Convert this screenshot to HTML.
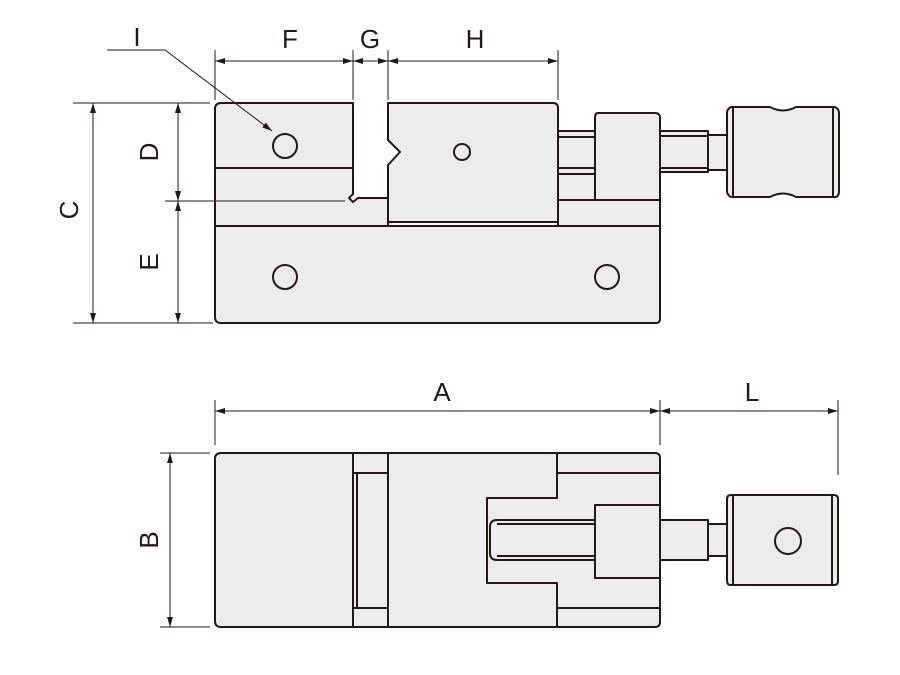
<!DOCTYPE html>
<html><head><meta charset="utf-8"><style>html,body{margin:0;padding:0;background:#fff}svg{display:block}</style></head><body>
<svg width="900" height="675" viewBox="0 0 900 675" xmlns="http://www.w3.org/2000/svg">
<defs>
<marker id="a" viewBox="0 0 10 6" refX="10" refY="3" markerWidth="10" markerHeight="6" orient="auto-start-reverse" markerUnits="userSpaceOnUse"><path d="M0,0 L10,3 L0,6z" fill="#231815"/></marker>
</defs>
<g font-family="Liberation Sans, sans-serif" font-size="26" fill="#231815" text-anchor="middle">
<text x="290" y="48">F</text><text x="370" y="48">G</text><text x="475" y="48">H</text>
<text x="137" y="46">I</text>
<text x="442" y="401">A</text><text x="752" y="401">L</text>
<text transform="translate(78,210) rotate(-90)">C</text>
<text transform="translate(158,152) rotate(-90)">D</text>
<text transform="translate(158,262) rotate(-90)">E</text>
<text transform="translate(158,540) rotate(-90)">B</text>
</g>
<g stroke="#231815" stroke-width="2" fill="#ececec" stroke-linejoin="round">
<!-- top view -->
<rect x="558" y="131" width="40" height="69"/>
<line x1="558" y1="137" x2="595" y2="137"/><line x1="558" y1="168" x2="595" y2="168"/><line x1="558" y1="174" x2="595" y2="174"/>
<rect x="660" y="131" width="48" height="41"/><rect x="708" y="135" width="19" height="35"/>
<line x1="660" y1="136" x2="708" y2="136"/><line x1="660" y1="168" x2="708" y2="168"/>
<path d="M731,107 L770,107 Q783,114 796,107 L835,107 Q839,109 839,113 L839,191 Q839,197 835,197 L796,197 Q783,190 770,197 L731,197 Q727,195 727,191 L727,113 Q727,109 731,107Z"/>
<line x1="733" y1="108" x2="733" y2="196"/><line x1="833" y1="108" x2="833" y2="196"/>
<path d="M219,226 L660,226 L660,319 Q660,323 656,323 L221,323 Q215,323 215,317 L215,226Z"/>
<path d="M215,226 L215,109 Q215,103 221,103 L353,103 L353,194 L349,198 L353,202 L358,198 L388,198 L388,226 Z"/>
<line x1="215" y1="168" x2="353" y2="168"/>
<path d="M558,200 L660,200 L660,226 L558,226Z"/>
<path d="M388,103 L553,103 Q558,103 558,108 L558,222 L388,222 L388,165 L400,152 L388,140Z"/>
<path d="M598,113 L655,113 Q660,113 660,118 L660,200 L595,200 L595,118 Q595,113 598,113Z"/>
<circle cx="285" cy="146" r="12"/><circle cx="462" cy="152" r="8"/>
<circle cx="285" cy="277" r="12"/><circle cx="607" cy="277" r="12"/>
<!-- bottom view -->
<path d="M221,453 L655,453 Q660,453 660,458 L660,622 Q660,627 655,627 L221,627 Q215,627 215,621 L215,459 Q215,453 221,453Z"/>
<line x1="353" y1="453" x2="353" y2="627"/><line x1="388" y1="453" x2="388" y2="627"/>
<line x1="353" y1="473" x2="388" y2="473"/><line x1="353" y1="608" x2="388" y2="608"/>
<rect x="357" y="473" width="31" height="135"/>
<polyline points="557,453 557,498 487,498 487,583 557,583 557,627" fill="none"/>
<line x1="557" y1="473" x2="660" y2="473"/><line x1="557" y1="608" x2="660" y2="608"/>
<path d="M497,520 L595,520 L595,560 L497,560 Q490,560 490,553 L490,527 Q490,520 497,520Z"/>
<line x1="497" y1="524" x2="595" y2="524"/><line x1="497" y1="556" x2="595" y2="556"/>
<rect x="595" y="505" width="65" height="73"/>
<rect x="660" y="520" width="48" height="40"/><rect x="708" y="524" width="19" height="32"/>
<path d="M731,495 L834,495 Q838,495 838,499 L838,581 Q838,585 834,585 L731,585 Q727,585 727,581 L727,499 Q727,495 731,495Z"/>
<line x1="733" y1="496" x2="733" y2="584"/><line x1="832" y1="496" x2="832" y2="584"/>
<circle cx="788" cy="541" r="13"/>
</g>
<g stroke="#231815" stroke-width="1" fill="none">
<line x1="215" y1="50" x2="215" y2="100"/><line x1="353" y1="50" x2="353" y2="100"/>
<line x1="388" y1="50" x2="388" y2="100"/><line x1="558" y1="50" x2="558" y2="100"/>
<line x1="215" y1="61" x2="353" y2="61" marker-start="url(#a)" marker-end="url(#a)"/>
<line x1="353" y1="61" x2="370" y2="61" marker-start="url(#a)"/>
<line x1="370" y1="61" x2="388" y2="61" marker-end="url(#a)"/>
<line x1="388" y1="61" x2="558" y2="61" marker-start="url(#a)" marker-end="url(#a)"/>
<polyline points="107,50 165,50 272,131" marker-end="url(#a)"/>
<line x1="73" y1="103" x2="210" y2="103"/><line x1="73" y1="323" x2="213" y2="323"/>
<line x1="93" y1="103" x2="93" y2="323" marker-start="url(#a)" marker-end="url(#a)"/>
<line x1="178" y1="103" x2="178" y2="201" marker-start="url(#a)" marker-end="url(#a)"/>
<line x1="178" y1="201" x2="178" y2="323" marker-start="url(#a)" marker-end="url(#a)"/>
<line x1="165" y1="201" x2="345" y2="201"/>
<line x1="215" y1="400" x2="215" y2="445"/><line x1="660" y1="400" x2="660" y2="445"/><line x1="838" y1="400" x2="838" y2="475"/>
<line x1="215" y1="411" x2="660" y2="411" marker-start="url(#a)" marker-end="url(#a)"/>
<line x1="660" y1="411" x2="838" y2="411" marker-start="url(#a)" marker-end="url(#a)"/>
<line x1="160" y1="453" x2="210" y2="453"/><line x1="160" y1="627" x2="210" y2="627"/>
<line x1="170" y1="453" x2="170" y2="627" marker-start="url(#a)" marker-end="url(#a)"/>
</g>
</svg>
</body></html>
